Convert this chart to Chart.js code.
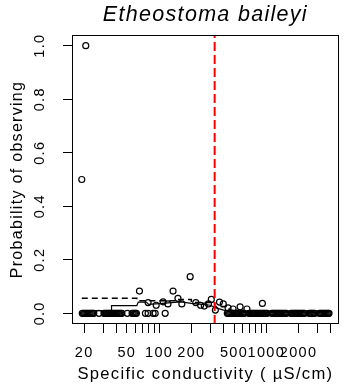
<!DOCTYPE html>
<html>
<head>
<meta charset="utf-8">
<script src="https://cdn.jsdelivr.net/npm/chart.js@4.4.1/dist/chart.umd.min.js"></script>
<style>
  html, body { margin: 0; padding: 0; background: #fff; }
  canvas { display: block; }
</style>
</head>
<body>
<canvas id="chart" width="344" height="391"></canvas>
<script>
// Etheostoma baileyi: probability of observing the species against specific conductivity (µS/cm)

// Sites where the species was not observed (probability 0)
const absentCond = [
  19.2, 19.7, 20.2, 20.7, 21.2, 21.7, 22.3, 22.8, 23.4, 24.0, 24.6,
  27.5,
  30.6, 31.4, 32.2, 33.0, 33.8, 34.6, 35.4, 36.2, 37.1, 38.0, 38.9, 39.8, 40.8, 41.8, 42.8, 43.9, 45.0,
  50.5,
  56.0, 57.4, 58.8, 60.2, 61.5,
  74.5, 79, 88, 92, 114,
  433, 444, 455, 466, 478, 490, 502, 515, 527, 540, 553, 567, 581, 596, 610, 625,
  689, 706, 724, 741, 760, 778, 798, 817, 838, 858, 880, 901, 924, 946, 970, 993, 1018,
  1122, 1150, 1178, 1207, 1237, 1268, 1299, 1331, 1364, 1398, 1433, 1468, 1504, 1541,
  1699, 1741, 1784, 1828, 1873, 1920, 1967, 2015, 2065, 2116, 2168, 2222, 2277,
  2510, 2572, 2636, 2701, 2767, 2836,
  3127, 3204, 3283, 3364, 3447, 3532, 3620, 3709, 3780, 3850
];

// Conductivity bins where the species was observed, with the observed proportion
const presentCond = [19, 20.7, 65.6, 79, 94, 109, 121, 135, 150, 163, 195, 220, 244, 264, 289, 307, 335, 366, 397, 440, 490, 570, 660, 920];
const presentProb = [0.5, 1.0, 0.083, 0.04, 0.03, 0.043, 0.035, 0.083, 0.056, 0.035, 0.137, 0.04, 0.03, 0.027, 0.035, 0.052, 0.012, 0.042, 0.035, 0.02, 0.016, 0.024, 0.016, 0.037];

// Smoothed probability (solid) and its upper bound (dashed)
const meanCond = [19, 36, 36, 62, 64, 76, 80, 100, 130, 160, 200, 250, 300, 340, 400, 480, 700, 3850];
const meanProb = [0.01, 0.01, 0.029, 0.029, 0.042, 0.042, 0.033, 0.036, 0.04, 0.043, 0.037, 0.033, 0.03, 0.02, 0.012, 0.006, 0.003, 0.002];
const upperCond = [19, 62, 62, 150, 150, 200, 200, 330, 330, 450, 450, 700, 3850];
const upperProb = [0.056, 0.056, 0.047, 0.047, 0.052, 0.052, 0.04, 0.04, 0.025, 0.025, 0.012, 0.006, 0.006];

// Estimated change point in conductivity
const changePoint = 330;

// Axis ticks
const xTickValues = [20, 30, 40, 50, 60, 70, 80, 90, 100, 200, 300, 400, 500, 600, 700, 800, 900, 1000, 2000, 3000, 4000];
const xTickLabels = [20, 50, 100, 200, 500, 1000, 2000];
const yTickValues = [0, 0.2, 0.4, 0.6, 0.8, 1.0];

const X_MIN = 15.4, X_MAX = 4750, Y_MIN = -0.04, Y_MAX = 1.04;
const FONT = '"Liberation Sans", Arial, Helvetica, sans-serif';
const SPACING = '1.3px';

const toPoints = (xs, ys) => xs.map((x, i) => ({ x: x, y: ys[i] }));

// wide, evenly spaced lettering for all chart text
const spacingPlugin = {
  id: 'spacing',
  beforeUpdate(chart) { chart.ctx.letterSpacing = SPACING; },
  beforeDraw(chart) { chart.ctx.letterSpacing = SPACING; }
};

// frame around the plotting region
const boxPlugin = {
  id: 'box',
  afterDraw(chart) {
    const { ctx, chartArea: a } = chart;
    ctx.save();
    ctx.strokeStyle = '#000';
    ctx.lineWidth = 1;
    ctx.strokeRect(Math.round(a.left) + 0.5, Math.round(a.top) + 0.5,
                   Math.round(a.right - a.left) - 1, Math.round(a.bottom - a.top) - 1);
    ctx.restore();
  }
};

const circleStyle = {
  showLine: false,
  pointStyle: 'circle',
  pointRadius: 3,
  borderWidth: 1.2,
  borderColor: '#000',
  backgroundColor: 'rgba(0,0,0,0)',
  order: 2
};

const ctx = document.getElementById('chart').getContext('2d');
new Chart(ctx, {
  type: 'scatter',
  data: {
    datasets: [
      {
        label: 'change point',
        data: [{ x: changePoint, y: Y_MIN }, { x: changePoint, y: Y_MAX }],
        showLine: true,
        borderColor: '#ff0000',
        borderWidth: 2,
        borderDash: [9, 4],
        pointRadius: 0,
        order: 0
      },
      {
        label: 'upper',
        data: toPoints(upperCond, upperProb),
        showLine: true,
        borderColor: '#000',
        borderWidth: 1.5,
        borderDash: [6, 4],
        pointRadius: 0,
        order: 1
      },
      {
        label: 'mean',
        data: toPoints(meanCond, meanProb),
        showLine: true,
        borderColor: '#000',
        borderWidth: 1.2,
        pointRadius: 0,
        order: 1
      },
      Object.assign({ label: 'observed', data: toPoints(presentCond, presentProb) }, circleStyle),
      Object.assign({ label: 'not observed', data: absentCond.map(x => ({ x: x, y: 0 })) }, circleStyle)
    ]
  },
  options: {
    responsive: false,
    devicePixelRatio: 1,
    animation: false,
    events: [],
    layout: { padding: { left: 0, right: 1, top: 0, bottom: 0 } },
    plugins: {
      legend: { display: false },
      tooltip: { enabled: false },
      title: {
        display: true,
        text: 'Etheostoma baileyi',
        fullSize: false,
        color: '#000',
        font: { family: FONT, size: 21.5, style: 'italic', weight: 'normal' },
        padding: { top: 2, bottom: 7.2 }
      }
    },
    scales: {
      x: {
        type: 'logarithmic',
        min: X_MIN,
        max: X_MAX,
        afterBuildTicks(scale) { scale.ticks = xTickValues.map(v => ({ value: v })); },
        afterFit(scale) { scale.height = 67; },
        border: { display: false },
        grid: { drawOnChartArea: false, drawTicks: true, tickLength: 9, color: '#000', lineWidth: 1 },
        ticks: {
          autoSkip: false,
          maxRotation: 0,
          minRotation: 0,
          padding: 11.6,
          color: '#000',
          font: { family: FONT, size: 14.5 },
          callback: (v) => xTickLabels.includes(v) ? String(v) : ''
        },
        title: {
          display: true,
          text: 'Specific conductivity ( µS/cm)',
          color: '#000',
          font: { family: FONT, size: 16.6 },
          padding: { top: 0, bottom: 6.6 }
        }
      },
      y: {
        type: 'linear',
        min: Y_MIN,
        max: Y_MAX,
        afterBuildTicks(scale) { scale.ticks = yTickValues.map(v => ({ value: v })); },
        afterFit(scale) { scale.width = 72; },
        border: { display: false },
        grid: { drawOnChartArea: false, drawTicks: true, tickLength: 9, color: '#000', lineWidth: 1 },
        ticks: {
          minRotation: 90,
          maxRotation: 90,
          crossAlign: 'center',
          padding: 10.5,
          color: '#000',
          font: { family: FONT, size: 14.5 },
          callback: (v) => Number(v).toFixed(1)
        },
        title: {
          display: true,
          text: 'Probability of observing',
          color: '#000',
          font: { family: FONT, size: 16 },
          padding: { top: 8.3, bottom: 0 }
        }
      }
    }
  },
  plugins: [spacingPlugin, boxPlugin]
});
</script>
</body>
</html>
